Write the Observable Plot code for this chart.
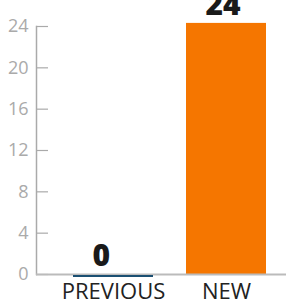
<!DOCTYPE html>
<html>
<head>
<meta charset="utf-8">
<script src="https://cdn.jsdelivr.net/npm/d3@7"></script>
<script src="https://cdn.jsdelivr.net/npm/@observablehq/plot@0.6"></script>
<style>
html, body { margin: 0; padding: 0; background: #fff; }
#chart svg { overflow: visible; display: block; }
</style>
</head>
<body>
<div id="chart"></div>
<script>
const categories = ["PREVIOUS", "NEW"];
const values = [0, 24.3];
const valueLabels = ["0", "24"];
const colors = ["#1b4f72", "#f57600"];
const yTicks = [0, 4, 8, 12, 16, 20, 24];

const data = categories.map((c, i) => ({cat: c, value: values[i], label: valueLabels[i], color: colors[i]}));

const chart = Plot.plot({
  width: 286,
  height: 305,
  marginLeft: 36,
  marginRight: 0,
  marginTop: 26,
  marginBottom: 31,
  style: {fontFamily: "'Open Sans', sans-serif", background: "#fff", overflow: "visible"},
  x: {domain: categories, paddingInner: 33/113, paddingOuter: 0.252, align: 0.649, axis: null},
  y: {domain: [0, 24], axis: null},
  marks: [
    Plot.frame({anchor: "left", stroke: "#aaa", strokeWidth: 1.5}),
    Plot.ruleY(yTicks, {y: d => d, stroke: "#aaa", strokeWidth: 1.2, insetRight: 238}),
    Plot.barY(data, {x: "cat", y: "value", fill: "color"}),
    Plot.ruleY([0], {stroke: "#bbb", strokeWidth: 2}),
    Plot.tickY(data, {x: "cat", y: "value", stroke: "color", strokeWidth: 2, dy: 1.5}),
    Plot.text(data, {x: "cat", y: "value", text: "label", dy: -18, dx: -21, textAnchor: "start", fontSize: 30, fontWeight: 800, fill: "#1a1a1a"}),
    Plot.axisX({tickSize: 0, tickPadding: 9, fontSize: 22, fill: "#222", anchor: "bottom", label: null}),
    Plot.axisY(yTicks, {tickSize: 0, tickPadding: 8, fontSize: 18, fill: "#aaa", anchor: "left", label: null})
  ]
});
document.getElementById("chart").appendChild(chart);
</script>
</body>
</html>
